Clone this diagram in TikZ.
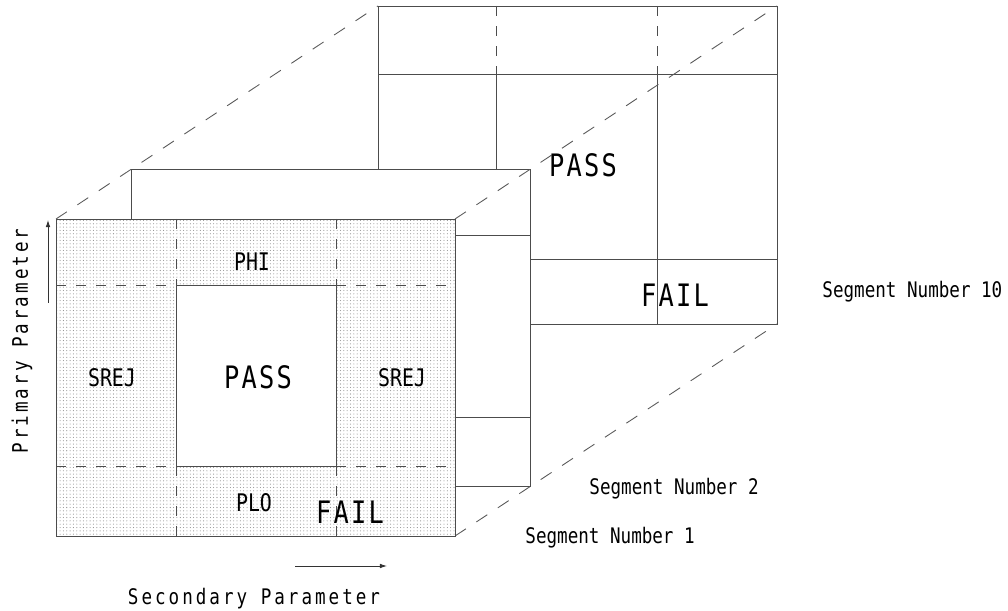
\documentclass[tikz,border=0pt]{standalone}
\usepackage{fontspec}
\usepackage{tikz}
\usetikzlibrary{arrows.meta, patterns}
\newfontfamily\cadfont[FakeStretch=0.82]{DejaVu Sans Mono}
\newfontfamily\cadwide[FakeStretch=0.82,LetterSpace=7]{DejaVu Sans Mono}
\newfontfamily\cadaxis[FakeStretch=0.82,LetterSpace=14]{DejaVu Sans Mono}
\pgfdeclarepatternformonly{cadots}{\pgfqpoint{-0.5pt}{-0.5pt}}{\pgfqpoint{0.5pt}{0.5pt}}{\pgfqpoint{1.9pt}{1.9pt}}{%
  \pgfpathcircle{\pgfpointorigin}{0.3pt}\pgfusepath{fill}}

\begin{document}
\begin{tikzpicture}[
  x=0.02cm, y=-0.02cm,
  line width=0.5pt,
  frame/.style={draw=black!70},
  grid/.style={draw=black!70, dash pattern=on 5.7pt off 5.7pt},
  depth/.style={draw=black!65, dash pattern=on 7.4pt off 7.2pt},
  big/.style={font=\fontsize{17.6}{20}\cadwide, inner sep=0pt, anchor=base},
  small/.style={font=\fontsize{13.8}{16}\cadfont, inner sep=0pt, anchor=base},
  seglbl/.style={font=\fontsize{12.2}{14}\cadfont, inner sep=0pt, anchor=base west},
  axis/.style={font=\fontsize{12.2}{14}\cadaxis, inner sep=0pt, anchor=base},
  arr/.style={-{Latex[length=4pt,width=2.6pt]}, draw=black!80}
]
\useasboundingbox (0,0) rectangle (1008,611);

\coordinate (f-tl) at (56,219);
\coordinate (f-br) at (455,536);
\coordinate (f-tr) at (455,219);
\coordinate (s2-tl) at (131,169);
\coordinate (s2-br) at (530,486);
\coordinate (s10-tl) at (378,6);
\coordinate (s10-tr) at (777,6);
\coordinate (s10-br) at (777,324);

\draw[frame, fill=white] (s10-tl) rectangle (s10-br);
\draw[frame] (378,74) -- (777,74) (378,259) -- (777,259);
\draw[grid] (496,6) -- (496,74) (657,6) -- (657,74);
\draw[frame] (496,74) -- (496,324) (657,74) -- (657,324);

\draw[frame, fill=white] (s2-tl) rectangle (s2-br);
\draw[frame] (131,235) -- (530,235) (131,417) -- (530,417);

\draw[depth] (f-tl) -- (s10-tl);
\draw[depth] (f-tr) -- (s10-tr);
\draw[depth] (f-br) -- (s10-br);

\draw[frame, preaction={fill=white}, pattern=cadots, pattern color=black!45] (f-tl) rectangle (f-br);
\draw[frame, fill=white] (176,285) rectangle (336,466);
\draw[grid] (56,285) -- (176,285) (336,285) -- (455,285)
            (56,466) -- (176,466) (336,466) -- (455,466)
            (176,219) -- (176,285) (336,219) -- (336,285)
            (176,466) -- (176,536) (336,466) -- (336,536);

\node[small] (phi) at (252,271) {PHI};
\node[big] (pass1) at (258,388) {PASS};
\node[small] (srejl) at (112,386) {SREJ};
\node[small] (srejr) at (402,386) {SREJ};
\node[small] (plo) at (254,511) {PLO};
\node[big] (fail1) at (350,523) {FAIL};
\node[big] (pass10) at (583,177) {PASS};
\node[big] (fail10) at (675,307) {FAIL};

\node[seglbl] (seg1) at (525,543) {Segment Number 1};
\node[seglbl] (seg2) at (589,494) {Segment Number 2};
\node[seglbl] (seg10) at (822,298) {Segment Number 10};

\node[axis, rotate=90] (prim) at (28,341) {Primary Parameter};
\node[axis] (sec) at (254,604) {Secondary Parameter};

\coordinate (prim-s) at (48,303);
\coordinate (prim-e) at (48,220);
\coordinate (sec-s) at (295,566);
\coordinate (sec-e) at (387,566);
\draw[arr] (prim-s) -- (prim-e);
\draw[arr] (sec-s) -- (sec-e);
\end{tikzpicture}
\end{document}
